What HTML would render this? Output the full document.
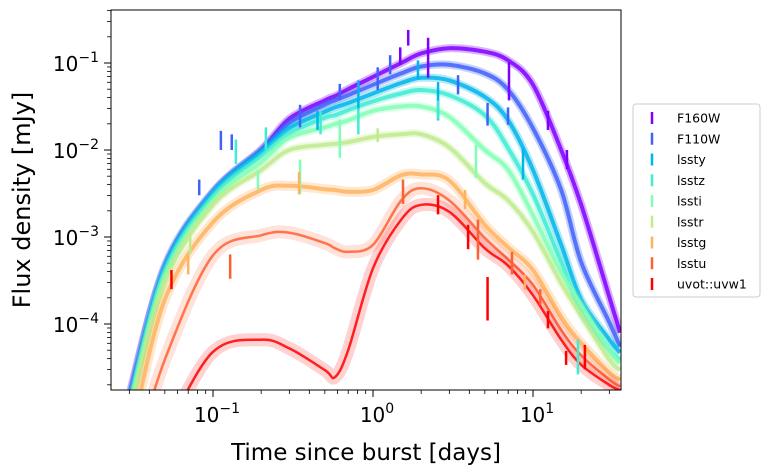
<!DOCTYPE html>
<html><head><meta charset="utf-8"><style>
html,body{margin:0;padding:0;background:#fff;width:770px;height:475px;overflow:hidden;}
svg{display:block;font-family:"DejaVu Sans","Liberation Sans",sans-serif;}
</style></head><body>
<svg id="chart" width="770" height="475" xmlns="http://www.w3.org/2000/svg">
<defs><clipPath id="plotclip"><rect x="111" y="10" width="510" height="380"/></clipPath></defs>
<rect x="0" y="0" width="770" height="475" fill="#fff"/>
<g id="curves" clip-path="url(#plotclip)"></g>
<g id="points" clip-path="url(#plotclip)"></g>
<rect x="111" y="10" width="510" height="380" fill="none" stroke="#000" stroke-width="1"/>
<g id="axes"></g>
<text x="366" y="460" text-anchor="middle" font-size="23">Time since burst [days]</text>
<text transform="translate(30,200) rotate(-90)" text-anchor="middle" font-size="24">Flux density [mJy]</text>
<g id="legend">
<rect x="633" y="104" width="127" height="193" rx="3" fill="#fff" stroke="#ccc"/>
</g>
</svg>
<script>
const bands = ["F160W","F110W","lssty","lsstz","lssti","lsstr","lsstg","lsstu","uvot::uvw1"];
const colors = ["#8000ff","#4062fa","#00b5eb","#40ecd4","#80ffb4","#c0eb8d","#ffb360","#ff6030","#ff0000"];
const times = [0.025,0.03,0.05,0.1,0.2,0.3,0.5,0.58,0.7,1,1.5,2,3,5,7,10,15,20,30,35];
// model log10 flux per band (mJy)
const mF160W = [-5.56,-4.82,-3.36,-2.49,-2.00,-1.64,-1.43,-1.38,-1.30,-1.16,-1.00,-0.89,-0.83,-0.87,-0.97,-1.25,-2.00,-2.63,-3.69,-4.10];
const mF110W = [-5.56,-4.87,-3.33,-2.48,-2.00,-1.69,-1.48,-1.43,-1.37,-1.25,-1.12,-1.04,-1.02,-1.12,-1.31,-1.75,-2.46,-3.29,-3.98,-4.26];
const mLssty = [-5.56,-4.90,-3.36,-2.49,-2.02,-1.75,-1.56,-1.51,-1.46,-1.35,-1.23,-1.17,-1.20,-1.39,-1.66,-2.23,-3.09,-3.72,-4.18,-4.33];
const mLsstz = [-5.56,-4.93,-3.40,-2.53,-2.07,-1.81,-1.63,-1.60,-1.54,-1.44,-1.35,-1.31,-1.37,-1.60,-1.98,-2.51,-3.29,-3.87,-4.30,-4.41];
const mLssti = [-5.56,-4.99,-3.45,-2.58,-2.14,-1.86,-1.74,-1.70,-1.66,-1.55,-1.50,-1.50,-1.62,-2.00,-2.23,-2.75,-3.41,-3.78,-4.30,-4.45];
const mLsstr = [-5.62,-5.05,-3.52,-2.63,-2.23,-2.00,-1.94,-1.93,-1.91,-1.85,-1.82,-1.82,-1.97,-2.38,-2.58,-2.94,-3.53,-3.90,-4.41,-4.53];
const mLsstg = [-5.79,-5.33,-3.72,-2.83,-2.46,-2.41,-2.45,-2.46,-2.48,-2.46,-2.29,-2.28,-2.35,-2.86,-3.12,-3.38,-3.92,-4.22,-4.56,-4.64];
const mLsstu = [-6.25,-5.79,-4.41,-3.21,-2.98,-2.95,-3.07,-3.13,-3.17,-3.09,-2.58,-2.44,-2.58,-3.01,-3.26,-3.55,-4.07,-4.36,-4.64,-4.72];
const mUvw1 = [-7.17,-6.71,-5.22,-4.32,-4.18,-4.28,-4.53,-4.61,-4.30,-3.36,-2.80,-2.63,-2.71,-3.13,-3.33,-3.67,-4.18,-4.47,-4.70,-4.76];
const models = [mF160W,mF110W,mLssty,mLsstz,mLssti,mLsstr,mLsstg,mLsstu,mUvw1];
// observations: band index, time (days), log10 flux, error (dex)
const obsBand = [0,0,0,0,0,0, 1,1,1,1,1,1,1,1,1,1, 2,2,2,2,2, 3,3,3,3,3,3, 4,4,4,4, 5,5, 6,6,6,6, 7,7,7,7,7, 8,8,8,8,8,8,8];
const obsTime = [1.66,2.21,7.08,12.4,16.3,1.48, 0.082,0.112,0.131,0.35,0.62,1.07,1.28,3.4,5.2,6.98, 0.45,0.81,1.91,2.55,8.66, 0.139,0.214,0.47,0.81,2.55,19.1, 0.191,0.62,4.4,0.35, 0.072,1.07, 0.07,0.345,3.76,8.9, 0.128,1.54,4.53,7.39,11.1, 0.055,2.55,3.93,5.2,12.4,16.1,21.1];
const obsLogF = [-0.71,-0.94,-1.21,-1.66,-2.11,-0.92, -2.43,-1.89,-1.91,-1.61,-1.33,-1.18,-1.02,-1.25,-1.59,-1.61, -1.66,-1.37,-1.08,-1.44,-2.16, -2.02,-1.87,-1.69,-1.67,-1.54,-4.38, -2.34,-1.87,-2.13,-2.31, -3.06,-1.83, -3.32,-2.38,-2.57,-3.52, -3.34,-2.48,-3.03,-3.30,-3.69, -3.49,-2.63,-3.00,-3.71,-3.95,-4.39,-4.38];
const obsErr = [0.09,0.23,0.22,0.11,0.11,0.10, 0.09,0.11,0.09,0.13,0.09,0.13,0.11,0.11,0.13,0.10, 0.11,0.17,0.11,0.22,0.18, 0.14,0.13,0.13,0.15,0.11,0.20, 0.11,0.22,0.19,0.20, 0.14,0.08, 0.11,0.13,0.11,0.09, 0.14,0.14,0.23,0.13,0.09, 0.11,0.11,0.14,0.25,0.10,0.08,0.14];
const xMajor = [0.1,1,10];
const xMajorExp = ["−1","0","1"];
const yMajor = [-1,-2,-3,-4];
const yMajorExp = ["−1","−2","−3","−4"];

const NS="http://www.w3.org/2000/svg";
function X(t){return 373+160*Math.log10(t);}
function Y(lf){return 324-87*(lf+4);}
function Yc(lf){return Math.min(470,Y(lf));}
function mk(tag,attrs,parent){const e=document.createElementNS(NS,tag);for(const k in attrs)e.setAttribute(k,attrs[k]);parent.appendChild(e);return e;}
function pathFrom(pts){
  let d="M"+pts[0][0].toFixed(1)+","+pts[0][1].toFixed(1);
  for(let i=0;i<pts.length-1;i++){
    const p0=pts[i-1]||pts[i],p1=pts[i],p2=pts[i+1],p3=pts[i+2]||p2;
    const c1=[p1[0]+(p2[0]-p0[0])/6,Math.min(470,p1[1]+(p2[1]-p0[1])/6)];
    const c2=[p2[0]-(p3[0]-p1[0])/6,Math.min(470,p2[1]-(p3[1]-p1[1])/6)];
    d+="C"+c1[0].toFixed(1)+","+c1[1].toFixed(1)+" "+c2[0].toFixed(1)+","+c2[1].toFixed(1)+" "+p2[0].toFixed(1)+","+p2[1].toFixed(1);
  }
  return d;
}
const cg=document.getElementById("curves");
for(let b=0;b<bands.length;b++){
  const pts=times.map((t,i)=>[X(t),Yc(models[b][i])]);
  const d=pathFrom(pts);
  const spread=b>=7?13:(b===6?10:8);
  const halo=mk("path",{d:d,fill:"none",stroke:colors[b],"stroke-width":spread,"stroke-opacity":b>=7?0.18:0.3,"stroke-linejoin":"round"},cg);
  
  
  const core=mk("path",{d:d,fill:"none",stroke:colors[b],"stroke-width":b>=7?2.5:4,"stroke-opacity":0.85,"stroke-linejoin":"round"},cg);
  
  
}
const pg=document.getElementById("points");
for(let i=0;i<obsTime.length;i++){
  const x=X(obsTime[i]);
  const l=mk("line",{x1:x,x2:x,y1:Yc(obsLogF[i]+obsErr[i]),y2:Yc(obsLogF[i]-obsErr[i]),stroke:colors[obsBand[i]],"stroke-width":2.5},pg);
  
  
}
const ag=document.getElementById("axes");
for(let dec=-2;dec<=1;dec++){
  for(let m=1;m<=9;m++){
    const t=m*Math.pow(10,dec);const x=X(t);
    if(x<111||x>621)continue;
    const tk=mk("line",{x1:x,x2:x,y1:390,y2:m===1?397:394,stroke:"#000","stroke-width":m===1?1:0.8},ag);
    
    
  }
}
xMajor.forEach((t,i)=>{
  const tx=mk("text",{x:X(t)+4,y:422,"text-anchor":"middle","font-size":20},ag);
  
  
  tx.innerHTML='10<tspan dy="-9" font-size="14">'+xMajorExp[i]+'</tspan>';
});
for(let dec=-5;dec<=-1;dec++){
  for(let m=1;m<=9;m++){
    const lf=dec+Math.log10(m);const y=Y(lf);
    if(y<10||y>390)continue;
    const tk=mk("line",{x1:m===1?104:107,x2:111,y1:y,y2:y,stroke:"#000","stroke-width":m===1?1:0.8},ag);
    
    
  }
}
yMajor.forEach((lf,i)=>{
  const tx=mk("text",{x:99,y:Y(lf)+8,"text-anchor":"end","font-size":20},ag);
  
  
  tx.innerHTML='10<tspan dy="-9" font-size="14">'+yMajorExp[i]+'</tspan>';
});
const lg=document.getElementById("legend");
bands.forEach((b,i)=>{
  const y=118+i*20.75;
  const m=mk("line",{x1:652,x2:652,y1:y-6,y2:y+6,stroke:colors[i],"stroke-width":2.5},lg);
  
  
  const t=mk("text",{x:677,y:y+4.5,"font-size":12.5},lg);
  
  
  t.textContent=b;
});
</script>
</body></html>
